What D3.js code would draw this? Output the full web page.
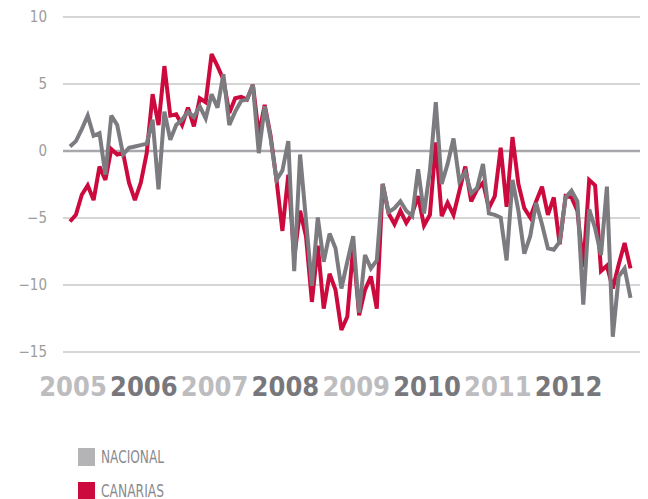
<!DOCTYPE html>
<html lang="es">
<head>
<meta charset="UTF-8">
<title>Nacional vs Canarias</title>
<script src="https://d3js.org/d3.v7.min.js"></script>
<style>
  body { margin: 0; background: #fff; }
</style>
</head>
<body>
<svg id="chart"></svg>
<script>
const width = 648, height = 499;

// tick labels
const yTicks = [10, 5, 0, -5, -10, -15];
const years = ["2005", "2006", "2007", "2008", "2009", "2010", "2011", "2012"];

// monthly values, jan 2005 - dec 2012
const canarias = [
  -5.3, -4.8, -3.3, -2.6, -3.7, -1.2, -2.2, 0.1, -0.3, -0.2,
  -2.4, -3.7, -2.4, -0.2, 4.2, 1.9, 6.3, 2.6, 2.7, 1.9,
  3.2, 1.8, 3.9, 3.6, 7.2, 6.3, 5.3, 2.8, 3.9, 4.0,
  3.8, 4.9, 1.2, 3.4, 1.1, -2.2, -6.0, -1.8, -8.0, -4.5,
  -6.4, -11.3, -7.1, -11.8, -9.2, -10.4, -13.4, -12.4, -7.2, -12.3,
  -10.4, -9.4, -11.8, -2.5, -4.7, -5.5, -4.5, -5.4, -4.7, -3.4,
  -5.6, -4.8, 0.6, -4.9, -3.9, -4.8, -3.0, -1.2, -3.8, -2.9,
  -2.4, -4.3, -3.4, 0.2, -4.2, 1.0, -2.5, -4.3, -5.0, -3.8,
  -2.7, -4.8, -3.5, -7.0, -3.4, -3.5, -4.5, -8.7, -2.2, -2.6,
  -9.0, -8.6, -10.3, -8.5, -6.9, -8.8
];
const nacional = [
  0.3, 0.7, 1.6, 2.6, 1.1, 1.3, -1.8, 2.6, 1.9, -0.3,
  0.2, 0.3, 0.4, 0.5, 2.3, -2.9, 2.9, 0.8, 1.9, 2.3,
  2.9, 2.5, 3.3, 2.4, 4.2, 3.2, 5.7, 1.9, 2.9, 3.7,
  3.8, 4.9, -0.2, 3.3, 0.9, -2.2, -1.5, 0.7, -9.0, -0.3,
  -5.2, -10.1, -5.0, -8.3, -6.2, -7.3, -10.3, -8.3, -6.4, -12.1,
  -7.8, -8.8, -8.2, -2.5, -4.6, -4.3, -3.8, -4.5, -4.9, -1.4,
  -4.7, -1.5, 3.6, -2.5, -1.0, 0.9, -2.3, -1.6, -3.2, -2.8,
  -1.0, -4.7, -4.8, -5.0, -8.2, -2.2, -4.5, -7.7, -6.4, -3.9,
  -5.5, -7.3, -7.4, -6.8, -3.5, -3.0, -3.8, -11.5, -4.4, -5.8,
  -7.8, -2.7, -13.9, -9.4, -8.8, -11.0
];

const series = [
  { name: "NACIONAL", values: nacional, color: "#7b7b80" },
  { name: "CANARIAS", values: canarias, color: "#cc0a3e" }
];

const svg = d3.select("#chart")
  .attr("width", width)
  .attr("height", height);

const gridLeft = 63, gridRight = 640;

const x = d3.scaleLinear().domain([0, canarias.length - 1]).range([70, 630.5]);
const y = d3.scaleLinear().domain([-15, 10]).range([351.5, 16.5]);

// y axis + gridlines
const yAxis = svg.append("g")
  .attr("transform", `translate(${gridLeft},0)`)
  .call(d3.axisLeft(y).tickValues(yTicks).tickSize(-(gridRight - gridLeft)).tickPadding(16));
yAxis.select(".domain").remove();
yAxis.selectAll(".tick line")
  .attr("stroke", d => d === 0 ? "#a8a8ac" : "#d6d6d6")
  .attr("stroke-width", d => d === 0 ? 2.6 : 2);
yAxis.selectAll(".tick text")
  .attr("fill", "#9d9d9d")
  .style("font-family", "'Liberation Sans Narrow', 'DejaVu Sans Condensed', sans-serif")
  .style("font-size", "15px");

// lines, gray on top
const line = d3.line()
  .x((d, i) => x(i))
  .y(d => y(d));

svg.selectAll("path.serie")
  .data([series[1], series[0]])
  .join("path")
  .attr("class", "serie")
  .attr("fill", "none")
  .attr("stroke", d => d.color)
  .attr("stroke-width", 4)
  .attr("stroke-linejoin", "miter")
  .attr("stroke-miterlimit", 3)
  .attr("d", d => line(d.values));

// year labels under the chart
const xAxis = svg.append("g")
  .attr("transform", "translate(2.5,376)")
  .call(d3.axisBottom(x)
    .tickValues(years.map((d, i) => i * 12))
    .tickFormat((d, i) => years[i])
    .tickSize(0)
    .tickPadding(0));
xAxis.select(".domain").remove();
xAxis.selectAll(".tick text")
  .attr("dy", "0.74em")
  .attr("fill", (d, i) => i % 2 ? "#77777c" : "#bdbdbf")
  .style("font-family", "'DejaVu Sans Condensed', 'DejaVu Sans', sans-serif")
  .style("font-weight", "bold")
  .style("font-size", "27px");

// legend
const legend = svg.append("g");
const items = legend.selectAll("g")
  .data(series)
  .join("g")
  .attr("transform", (d, i) => `translate(78,${448 + i * 34})`);
items.append("rect")
  .attr("width", 17)
  .attr("height", 18)
  .attr("fill", (d, i) => i === 0 ? "#b4b4b7" : "#cc0a3e");
items.append("text")
  .attr("x", 23)
  .attr("y", 14.5)
  .attr("textLength", 63)
  .attr("lengthAdjust", "spacingAndGlyphs")
  .attr("fill", "#8a8a8e")
  .style("font-family", "'Liberation Sans Narrow', 'DejaVu Sans Condensed', sans-serif")
  .style("font-size", "18px")
  .text(d => d.name);
</script>
</body>
</html>
